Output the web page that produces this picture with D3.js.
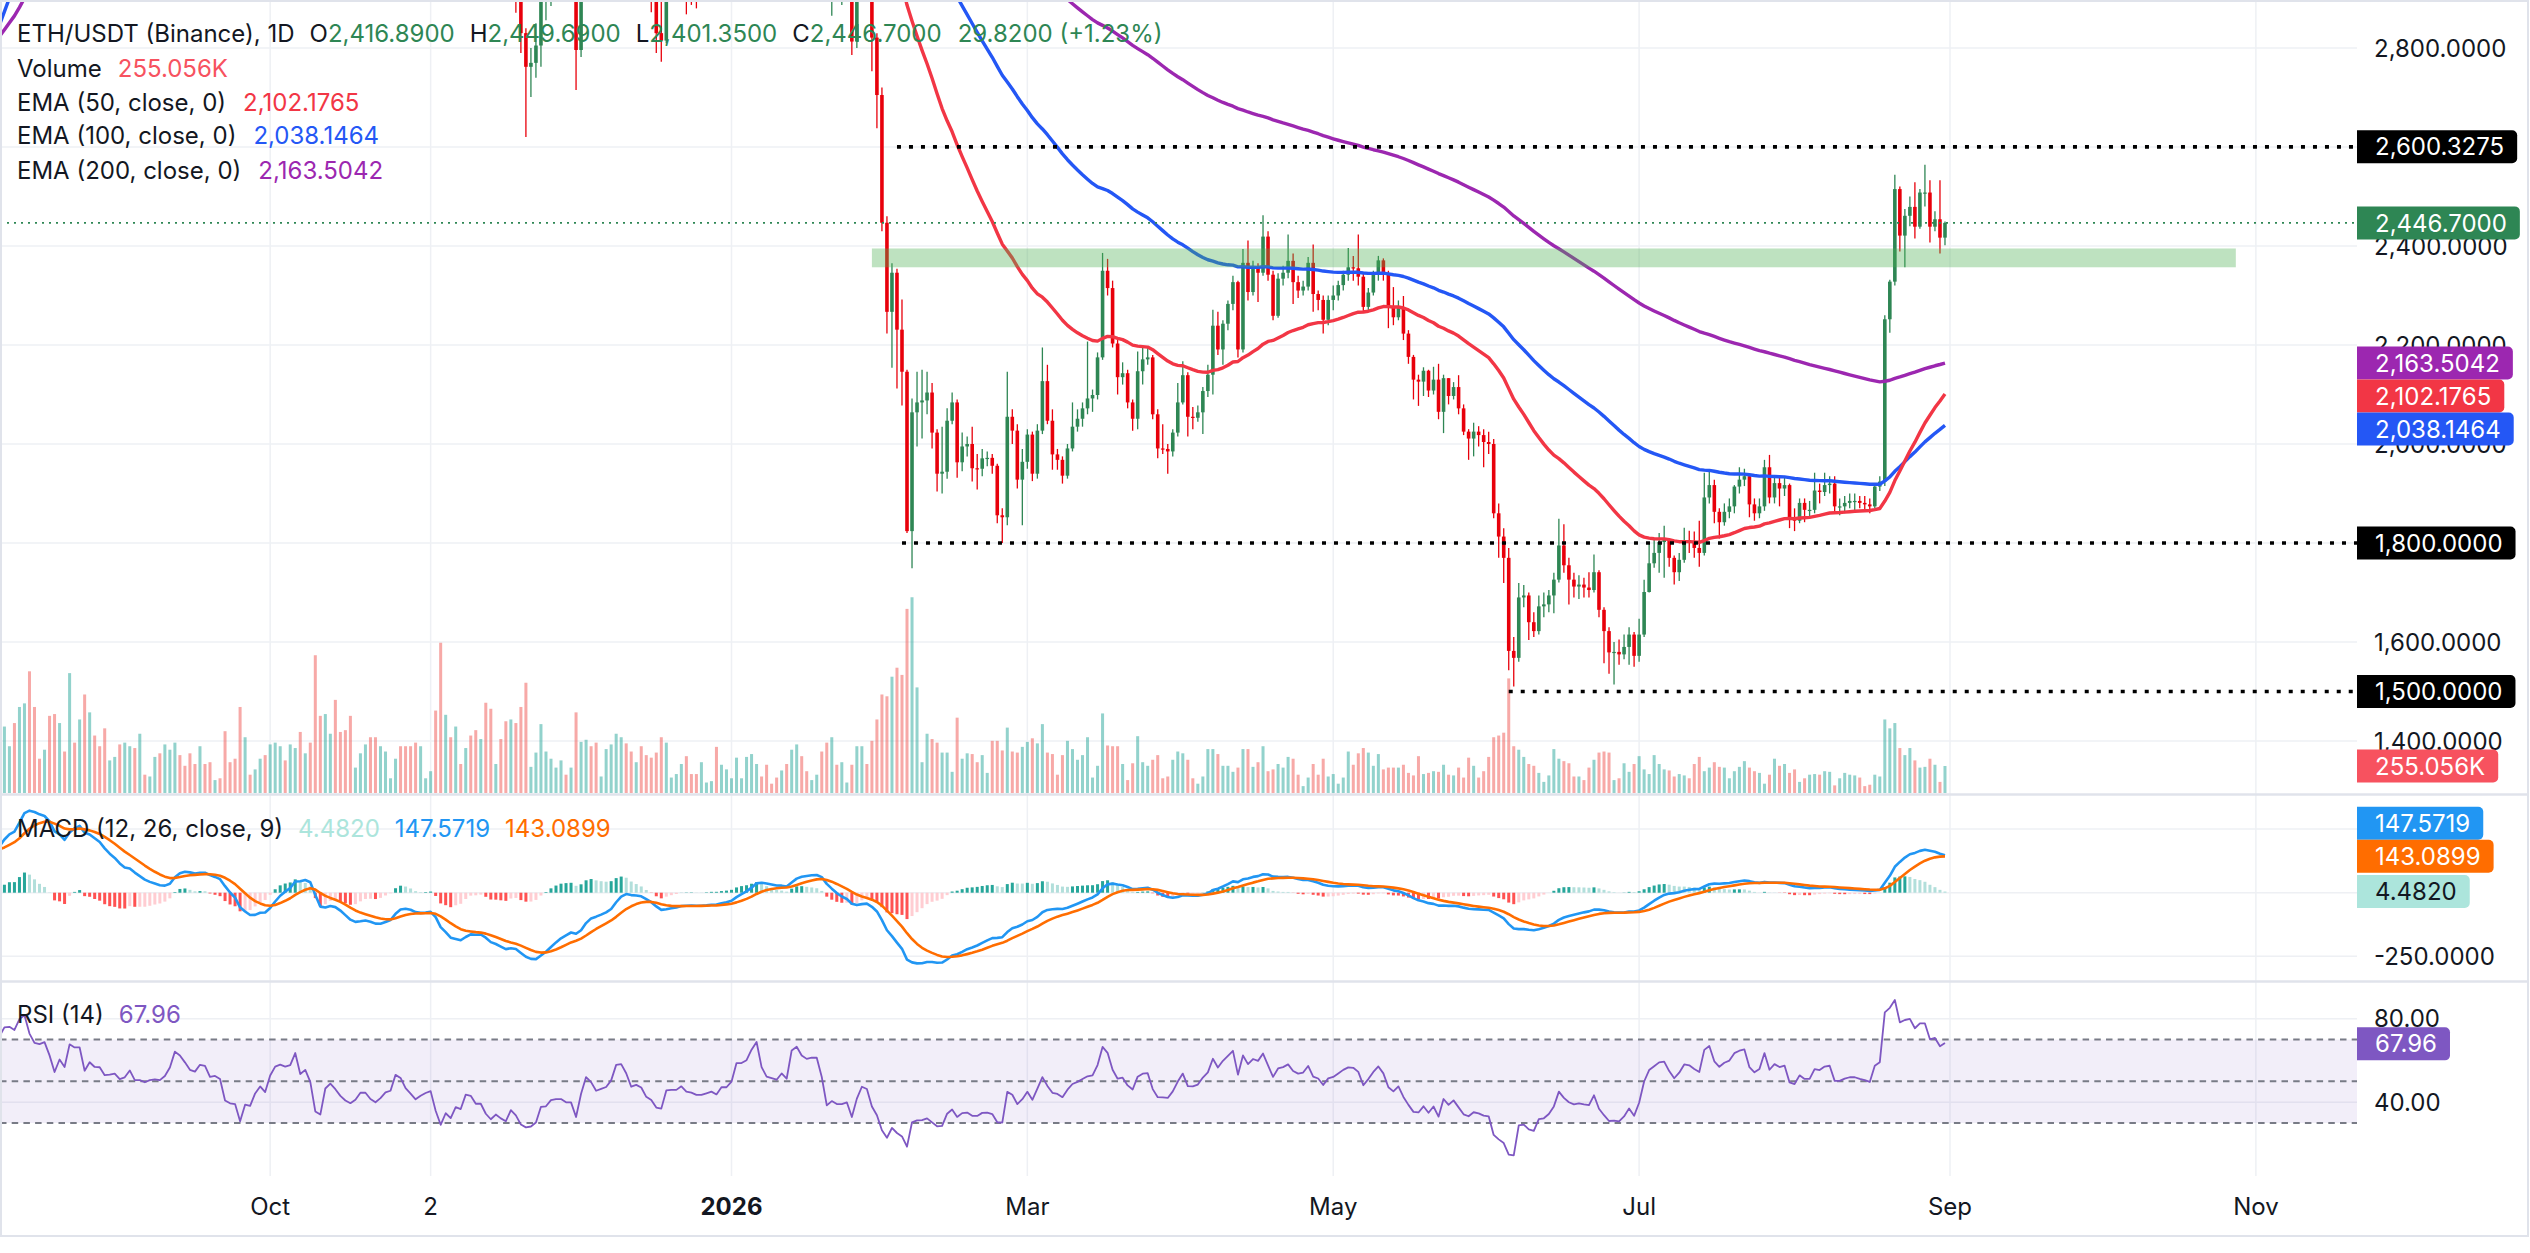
<!DOCTYPE html>
<html>
<head>
<meta charset="utf-8">
<script src="https://cdn.jsdelivr.net/npm/d3@7"></script>
<style>
html, body { margin: 0; padding: 0; background: #fff; }
svg { display: block; font-family: Inter, "Noto Sans", sans-serif; }
</style>
</head>
<body>
<div id="chart"></div>
<script>
// ---- data (daily ETH/USDT, Binance), first bar 2025-08-08 ----
const firstDay = Date.UTC(2025, 7, 8)
const firstOpen = 3910

const closes = [
  3970,4240,4255,4225,4595,4760,4555,4440,4425,4475,4315,4080,4340,4225,4830,4780,4780,4380,4600,4510,4505,4360,4370,4390,
  4300,4330,4450,4300,4300,4270,4300,4310,4300,4350,4460,4710,4670,4600,4520,4500,4590,4580,4470,4480,4450,4200,4160,4150,3870,4030,4010,4140,4220,4145,
  4350,4480,4510,4490,4510,4690,4460,4520,4370,3830,3750,4150,4240,4130,3990,3890,3830,3880,3980,3980,3870,3810,3860,3930,3950,4160,4120,3980,3900,3810,3850,
  3880,3900,3600,3290,3420,3310,3440,3400,3580,3560,3420,3420,3230,3110,3160,3080,3020,3130,3030,2830,2762,2770,2805,2955,2960,3020,3030,3030,2990,2990,
  2796,3000,3190,3130,3020,3040,3060,3130,3320,3330,3240,3090,3110,3080,2970,2930,2830,2815,2975,2980,2980,3010,2960,2950,2930,2930,2940,2950,2930,2970,2970,
  3000,3120,3120,3140,3220,3290,3160,3100,3090,3080,3120,3090,3320,3360,3310,3290,3300,3300,3190,2950,2980,2950,2950,2960,2813,2930,3020,3000,2821,2705,2447,
  2267,2346,2231,2146,1824,2064,2084,2088,2104,2023,1940,1944,2047,2084,1963,1995,2000,1951,1950,1971,1972,1956,1856,1852,2055,2027,1928,1964,
  2019,1940,2027,2127,2047,1979,1968,1936,1991,2035,2051,2072,2092,2099,2175,2350,2315,2203,2135,2143,2084,2051,2147,2171,2175,2060,1991,1990,1985,2023,2084,
  2139,2055,2053,2064,2107,2140,2239,2191,2243,2283,2327,2191,2366,2307,2358,2346,2419,2342,2259,2334,2346,2370,2327,2310,2318,2366,2303,2291,2251,2291,
  2300,2321,2342,2357,2355,2338,2277,2306,2342,2371,2342,2277,2256,2277,2223,2176,2130,2126,2148,2108,2130,2065,2133,2097,2115,2072,2025,2011,2025,2018,2004,
  2000,1860,1813,1770,1582,1568,1690,1694,1640,1622,1672,1676,1694,1726,1795,1755,1726,1712,1716,1710,1705,1741,1665,1622,1579,1580,1575,1590,1615,1572,
  1615,1701,1759,1780,1802,1806,1770,1741,1766,1806,1803,1790,1780,1892,1917,1863,1842,1863,1874,1914,1928,1935,1878,1860,1874,1953,1892,1921,1910,1917,1852,
  1845,1881,1867,1867,1906,1903,1917,1920,1874,1874,1881,1885,1885,1881,1878,1874,1914,1924,2252,2328,2515,2421,2461,2479,2439,2508,2508,2439,2454,2416.89,2446.70
]

const highs = [
  4000,4320,4330,4320,4630,4790,4785,4645,4480,4520,4480,4320,4355,4350,4885,4860,4955,4790,4640,4660,4610,4520,4420,4500,
  4450,4370,4490,4500,4490,4320,4320,4420,4480,4380,4480,4770,4770,4690,4660,4550,4600,4640,4600,4500,4480,4450,4230,4210,4160,4040,4090,4150,4240,4230,
  4370,4520,4600,4560,4560,4760,4700,4550,4540,4390,3850,4170,4290,4140,4220,4110,3950,3900,4020,4060,4090,3900,3880,3960,4020,4170,4240,4190,4030,3950,3890,
  3920,3910,3890,3600,3460,3440,3480,3450,3590,3650,3600,3490,3450,3290,3200,3240,3120,3140,3130,3060,2840,2800,2850,2970,2990,3060,3050,3060,3040,3050,
  3000,3010,3210,3230,3150,3070,3100,3150,3400,3450,3350,3250,3120,3130,3180,3020,2990,2900,2990,3000,3000,3050,3020,2990,2960,2960,2960,2980,3010,2990,3010,
  3010,3140,3150,3160,3250,3310,3300,3170,3140,3110,3140,3160,3340,3400,3370,3320,3330,3360,3300,3200,3000,3000,2990,2980,2960,2950,3040,3050,3010,2830,2720,
  2460,2365,2354,2292,2150,2092,2146,2150,2146,2123,2030,2035,2072,2104,2090,2023,2015,2035,1980,1990,1985,1980,1960,1870,2146,2070,2040,1990,
  2030,2025,2040,2195,2160,2070,1990,1975,2000,2084,2070,2084,2207,2110,2185,2386,2374,2330,2210,2165,2150,2090,2187,2195,2195,2180,2070,2040,2000,2030,2123,
  2167,2145,2075,2078,2115,2160,2271,2267,2250,2290,2340,2330,2394,2411,2370,2365,2462,2430,2350,2345,2360,2423,2385,2340,2330,2378,2403,2310,2300,2300,
  2320,2330,2350,2396,2380,2423,2345,2315,2350,2380,2375,2350,2317,2290,2299,2230,2180,2140,2155,2150,2156,2162,2140,2133,2125,2139,2080,2030,2043,2036,2030,
  2025,2010,1880,1830,1790,1610,1719,1715,1700,1660,1694,1700,1705,1740,1849,1838,1770,1740,1735,1730,1741,1777,1745,1670,1630,1600,1605,1615,1630,1620,
  1647,1726,1802,1809,1820,1835,1810,1775,1780,1831,1825,1823,1845,1942,1946,1928,1870,1880,1890,1917,1953,1950,1940,1890,1890,1968,1978,1935,1935,1935,1920,
  1870,1890,1890,1885,1942,1920,1942,1935,1935,1890,1895,1900,1900,1895,1895,1890,1920,1935,2260,2332,2544,2520,2475,2500,2529,2515,2564,2533,2470,2533,2449.69
]

const lows = [
  3850,3940,4200,4130,4190,4600,4460,4350,4360,4400,4230,4060,4060,4200,4215,4720,4720,4310,4360,4500,4420,4330,4330,4370,
  4210,4240,4330,4270,4210,4250,4280,4280,4260,4300,4330,4460,4630,4560,4500,4470,4460,4480,4470,4450,4440,4090,4150,4100,3820,3840,4000,4000,4140,4140,
  4145,4340,4460,4470,4450,4520,4440,4450,4300,3430,3670,3710,4110,3920,3950,3870,3700,3800,3870,3920,3860,3700,3790,3830,3930,3950,4100,3960,3850,3700,3780,
  3810,3830,3590,3060,3240,3270,3270,3370,3390,3520,3400,3370,3200,3000,3120,3060,2950,3000,2871,2790,2620,2701,2740,2762,2856,2885,2990,2990,2960,2960,
  2715,2782,2990,3100,3000,2990,2990,3040,3100,3250,3180,3070,3070,3060,2920,2872,2790,2772,2810,2950,2950,2960,2868,2887,2880,2910,2920,2920,2910,2920,2940,
  2960,2990,3080,3100,3130,3200,3140,3080,3060,3060,3070,3060,3080,3300,3280,3250,3280,3280,3170,2930,2865,2910,2887,2930,2786,2800,2920,2960,2753,2638,2430,
  2223,2154,2112,2078,1820,1749,1995,2011,2060,1991,1904,1900,1930,2040,1932,1945,1975,1924,1908,1935,1955,1940,1840,1800,1836,2000,1910,1836,
  1950,1925,1930,2020,2040,1948,1948,1920,1930,1985,2025,2035,2060,2065,2090,2170,2300,2195,2100,2120,2072,2027,2030,2120,2160,2050,1971,1980,1940,1975,2015,
  2080,2015,2030,2045,2020,2095,2100,2180,2160,2230,2270,2175,2185,2290,2300,2287,2340,2330,2250,2255,2320,2335,2283,2295,2300,2310,2267,2270,2223,2240,
  2270,2290,2310,2330,2330,2320,2266,2270,2300,2330,2330,2234,2240,2250,2210,2162,2090,2077,2097,2095,2100,2050,2022,2080,2090,2060,2018,1968,1975,1995,1953,
  1980,1850,1770,1719,1543,1510,1560,1670,1604,1610,1615,1650,1660,1658,1720,1740,1676,1690,1687,1690,1690,1700,1650,1557,1536,1514,1554,1565,1554,1550,
  1560,1610,1700,1750,1740,1730,1752,1716,1723,1760,1780,1770,1752,1775,1880,1840,1809,1835,1850,1860,1900,1915,1852,1845,1850,1865,1880,1880,1874,1895,1830,
  1824,1840,1842,1850,1860,1880,1895,1900,1860,1856,1860,1870,1863,1870,1865,1860,1870,1905,1915,2225,2320,2389,2357,2440,2415,2435,2480,2407,2430,2385,2401.35
]

// volume in thousands of ETH
const volumes = [
  476,
  628,442,661,813,847,1150,813,324,409,729,
  746,661,392,1133,476,695,931,762,543,442,
  611,308,341,459,476,442,425,560,173,156,
  341,375,459,409,476,358,257,375,274,442,
  274,291,122,139,584,291,324,813,527,173,
  223,324,358,459,476,442,308,459,425,577,
  375,476,1302,729,746,560,880,577,594,729,
  240,375,459,527,527,442,392,139,324,442,
  442,442,476,442,139,206,779,1420,739,527,
  628,274,425,543,594,510,853,796,274,510,
  678,695,661,813,1042,247,382,651,392,324,
  240,308,173,240,762,483,503,442,476,156,
  415,459,560,527,469,392,291,442,358,334,
  382,527,476,146,179,274,348,179,179,291,
  99,112,436,267,223,139,334,139,341,368,
  274,156,267,88,146,213,274,409,459,348,
  206,122,173,392,476,527,267,291,99,267,
  442,442,274,493,695,931,914,1099,1184,1116,
  1740,1850,998,291,560,510,476,382,382,200,
  712,324,375,368,291,358,190,493,493,
  402,618,392,382,436,483,517,469,651,382,
  368,173,358,493,415,314,358,527,146,257,
  752,449,442,442,274,122,281,537,291,257,
  314,358,139,156,314,392,375,314,139,88,
  156,415,415,368,257,257,200,240,415,415,
  247,291,442,206,223,274,240,341,324,173,
  65,146,274,173,324,156,179,88,146,392,
  267,375,425,382,257,368,223,240,240,240,
  267,190,166,348,179,190,206,200,267,173,
  166,240,146,334,257,146,206,341,527,543,
  570,1083,442,409,341,274,257,190,105,166,
  415,324,301,281,156,156,122,240,314,382,
  392,382,122,139,281,200,274,348,223,179,
  358,274,223,213,156,179,166,139,274,341,
  206,240,
  291,247,240,139,206,247,301,240,206,190,
  88,173,324,257,274,190,223,105,139,173,
  179,173,206,200,72,139,190,173,166,146,
  65,78,173,156,695,611,661,425,358,425,
  308,240,247,324,267,105,255.056
]

// indicator starting values read at the left edge
const emaSeeds = { e50: 3370, e100: 2846, e200: 2823, e12: 3730, e26: 3548, signal: 170 }
const rsiSeeds = { gain: 80, loss: 32 }

// values shown in legends / scale labels
const lastBar = { o: 2416.89, h: 2449.69, l: 2401.35, c: 2446.70, chg: 29.82, pct: 1.23 }
const lastVolume = 255.056
const emaLast = { e50: 2102.1765, e100: 2038.1464, e200: 2163.5042 }
const macdLast = { hist: 4.4820, macd: 147.5719, signal: 143.0899 }
const rsiLast = 67.96

// horizontal levels and support zone drawn on the chart
const levels = [
  { value: 2600.3275, from: Date.UTC(2026, 1, 3) },
  { value: 1800, from: Date.UTC(2026, 1, 4) },
  { value: 1500, from: Date.UTC(2026, 5, 5) }
]
const zone = { low: 2357, high: 2395, from: Date.UTC(2026, 0, 29), to: Date.UTC(2026, 9, 28) }

const priceTicks = [1400, 1600, 1800, 2000, 2200, 2400, 2600, 2800]
const macdTicks = [-250, 0, 250]
const rsiTicks = [80, 40]
const timeTicks = [Date.UTC(2025, 9, 1), Date.UTC(2025, 10, 2), Date.UTC(2026, 0, 1), Date.UTC(2026, 2, 1),
  Date.UTC(2026, 4, 1), Date.UTC(2026, 6, 1), Date.UTC(2026, 8, 1), Date.UTC(2026, 10, 1)]
const timeLabels = ['Oct', '2', '2026', 'Mar', 'May', 'Jul', 'Sep', 'Nov']

// ---- colours ----
const dark = '#131722'
const upColor = '#2e8654'
const downColor = '#e8000b'
const histLight = '#ace5dc'
const gridColor = '#eef0f4'
const sepColor = '#e0e3eb'

// ---- layout ----
const W = 2530, H = 1253
const plotRight = 2357
const tagH = 33
const fmt4 = d3.format(',.4f')

const svg = d3.select('#chart').append('svg').attr('width', W).attr('height', H)
svg.append('rect').attr('width', W).attr('height', H).attr('fill', '#fff')

const x = d3.scaleUtc()
  .domain([new Date(Date.UTC(2026, 0, 1)), new Date(Date.UTC(2026, 8, 1))])
  .range([731.5, 1950])
const yPrice = d3.scaleLinear().domain([1400, 2800]).range([741, 48])
const yVol = d3.scaleLinear().domain([0, 1824]).range([793, 600])
const yMacd = d3.scaleLinear().domain([-250, 250]).range([956.3, 829.1])
const yRsi = d3.scaleLinear().domain([30, 70]).range([1123, 1039.6])

// ---- derived series ----
const dates = closes.map((c, i) => d3.utcDay.offset(new Date(firstDay), i))
const opens = closes.map((c, i) => i === 0 ? firstOpen : closes[i - 1])
const bars = closes.map((c, i) => ({ date: dates[i], o: opens[i], h: highs[i], l: lows[i], c: c, v: volumes[i] }))

const ema = (vals, n, first) => {
  const k = 2 / (n + 1)
  const out = [first]
  for (let i = 1; i < vals.length; i++) out.push(out[i - 1] + k * (vals[i] - out[i - 1]))
  return out
}
const ema50 = ema(closes, 50, emaSeeds.e50)
const ema100 = ema(closes, 100, emaSeeds.e100)
const ema200 = ema(closes, 200, emaSeeds.e200)
const ema12 = ema(closes, 12, emaSeeds.e12)
const ema26 = ema(closes, 26, emaSeeds.e26)
const macd = ema12.map((v, i) => v - ema26[i])
const signal = ema(macd, 9, emaSeeds.signal)
const hist = macd.map((v, i) => v - signal[i])

const rsi = []
let avgGain = rsiSeeds.gain, avgLoss = rsiSeeds.loss
closes.forEach((c, i) => {
  if (i > 0) {
    const ch = c - closes[i - 1]
    avgGain = (avgGain * 13 + Math.max(ch, 0)) / 14
    avgLoss = (avgLoss * 13 + Math.max(-ch, 0)) / 14
  }
  rsi.push(100 - 100 / (1 + avgGain / avgLoss))
})

// ---- clip paths per pane ----
const defs = svg.append('defs')
const clip = (id, y0, h) => defs.append('clipPath').attr('id', id)
  .append('rect').attr('x', 0).attr('y', y0).attr('width', plotRight).attr('height', h)
clip('clipPrice', 0, 793)
clip('clipMacd', 796, 184)
clip('clipRsi', 983, 193)

// ---- grid ----
const grid = svg.append('g').attr('stroke', gridColor).attr('stroke-width', 1.5)
timeTicks.forEach(t => grid.append('line')
  .attr('x1', x(t)).attr('x2', x(t)).attr('y1', 0).attr('y2', 1176))
const hGrid = (ticks, scale) => ticks.forEach(v => grid.append('line')
  .attr('x1', 0).attr('x2', plotRight).attr('y1', scale(v)).attr('y2', scale(v)))
hGrid(priceTicks, yPrice)
hGrid(macdTicks, yMacd)
hGrid(rsiTicks, yRsi)

// ---- price pane ----
const price = svg.append('g').attr('clip-path', 'url(#clipPrice)')

// volume overlay
price.append('g').selectAll('rect').data(bars).enter().append('rect')
  .attr('x', d => x(d.date) - 1.5)
  .attr('width', 3)
  .attr('y', d => yVol(d.v))
  .attr('height', d => yVol(0) - yVol(d.v))
  .attr('fill', d => d.c >= d.o ? '#26a69a' : '#ef5350')
  .attr('fill-opacity', 0.5)

// candles
const candle = price.append('g').selectAll('g').data(bars).enter().append('g')
  .attr('fill', d => d.c >= d.o ? upColor : downColor)
  .attr('stroke', d => d.c >= d.o ? upColor : downColor)
candle.append('line')
  .attr('x1', d => x(d.date)).attr('x2', d => x(d.date))
  .attr('y1', d => yPrice(Math.max(d.h, d.o, d.c)))
  .attr('y2', d => yPrice(Math.min(d.l, d.o, d.c)))
  .attr('stroke-width', 1.3)
candle.append('rect')
  .attr('stroke', 'none')
  .attr('x', d => x(d.date) - 1.8)
  .attr('width', 3.6)
  .attr('y', d => yPrice(Math.max(d.o, d.c)))
  .attr('height', d => Math.max(1.2, Math.abs(yPrice(d.o) - yPrice(d.c))))

// moving averages
const emaLine = (vals, color) => price.append('path')
  .datum(vals)
  .attr('fill', 'none').attr('stroke', color).attr('stroke-width', 3.4)
  .attr('stroke-linejoin', 'round')
  .attr('d', d3.line().x((v, i) => x(dates[i])).y(v => yPrice(v)))
emaLine(ema200, '#9c27b0')
emaLine(ema100, '#2457f5')
emaLine(ema50, '#f23645')

// support zone and levels
svg.append('rect')
  .attr('x', x(zone.from)).attr('width', x(zone.to) - x(zone.from))
  .attr('y', yPrice(zone.high)).attr('height', yPrice(zone.low) - yPrice(zone.high))
  .attr('fill', 'rgba(76,175,80,0.36)')
levels.forEach(l => svg.append('line')
  .attr('x1', x(l.from)).attr('x2', plotRight)
  .attr('y1', yPrice(l.value)).attr('y2', yPrice(l.value))
  .attr('stroke', '#000').attr('stroke-width', 3.6).attr('stroke-dasharray', '4 8'))

// last price line
svg.append('line')
  .attr('x1', 0).attr('x2', plotRight)
  .attr('y1', yPrice(lastBar.c)).attr('y2', yPrice(lastBar.c))
  .attr('stroke', upColor).attr('stroke-width', 1.6).attr('stroke-dasharray', '2 5')

// ---- MACD pane ----
const macdG = svg.append('g').attr('clip-path', 'url(#clipMacd)')
macdG.append('g').selectAll('rect').data(hist).enter().append('rect')
  .attr('x', (h, i) => x(dates[i]) - 1.5)
  .attr('width', 3)
  .attr('y', h => Math.min(yMacd(h), yMacd(0)))
  .attr('height', h => Math.abs(yMacd(h) - yMacd(0)))
  .attr('fill', (h, i) => {
    const prev = i > 0 ? hist[i - 1] : h
    if (h >= 0) return h > prev ? '#26a69a' : '#b2dfdb'
    return h > prev ? '#ffcdd2' : '#ff5252'
  })
const paneLine = (g, vals, yScale, color, w) => g.append('path')
  .datum(vals)
  .attr('fill', 'none').attr('stroke', color).attr('stroke-width', w)
  .attr('stroke-linejoin', 'round')
  .attr('d', d3.line().x((v, i) => x(dates[i])).y(v => yScale(v)))
paneLine(macdG, macd, yMacd, '#2196f3', 2.6)
paneLine(macdG, signal, yMacd, '#ff6d00', 2.6)

// ---- RSI pane ----
const rsiG = svg.append('g').attr('clip-path', 'url(#clipRsi)')
rsiG.append('rect')
  .attr('x', 0).attr('width', plotRight)
  .attr('y', yRsi(70)).attr('height', yRsi(30) - yRsi(70))
  .attr('fill', 'rgba(126,87,194,0.1)')
;[70, 50, 30].forEach(v => rsiG.append('line')
  .attr('x1', 0).attr('x2', plotRight).attr('y1', yRsi(v)).attr('y2', yRsi(v))
  .attr('stroke', '#787b86').attr('stroke-width', 2).attr('stroke-dasharray', '6.5 5.2'))
paneLine(rsiG, rsi, yRsi, '#7e57c2', 1.8)

// ---- pane separators and frame ----
const frame = svg.append('g').attr('stroke', sepColor).attr('fill', 'none')
frame.append('line').attr('x1', 0).attr('x2', 2528).attr('y1', 794.5).attr('y2', 794.5).attr('stroke-width', 2.5)
frame.append('line').attr('x1', 0).attr('x2', 2528).attr('y1', 981.5).attr('y2', 981.5).attr('stroke-width', 2.5)
frame.append('rect').attr('x', 1).attr('y', 1).attr('width', 2527).attr('height', 1235).attr('stroke-width', 2)

// ---- value tags on the right scale ----
// keep boxes from overlapping
const stack = (items, fromBottom) => {
  const s = items.slice().sort((a, b) => a.y - b.y)
  if (fromBottom) for (let i = s.length - 2; i >= 0; i--) s[i].y = Math.min(s[i].y, s[i + 1].y - tagH)
  else for (let i = 1; i < s.length; i++) s[i].y = Math.max(s[i].y, s[i - 1].y + tagH)
  return s
}
const priceTags = stack([
  { y: yPrice(levels[0].value), text: fmt4(levels[0].value), bg: '#000', fg: '#fff' },
  { y: yPrice(lastBar.c), text: fmt4(lastBar.c), bg: upColor, fg: '#fff' },
  { y: yPrice(emaLast.e200), text: fmt4(emaLast.e200), bg: '#9c27b0', fg: '#fff' },
  { y: yPrice(emaLast.e50), text: fmt4(emaLast.e50), bg: '#f23645', fg: '#fff' },
  { y: yPrice(emaLast.e100), text: fmt4(emaLast.e100), bg: '#2457f5', fg: '#fff' },
  { y: yPrice(levels[1].value), text: fmt4(levels[1].value), bg: '#000', fg: '#fff' },
  { y: yPrice(levels[2].value), text: fmt4(levels[2].value), bg: '#000', fg: '#fff' }
], false)
const volTags = [{ y: yVol(lastVolume), text: d3.format('.3f')(lastVolume) + 'K', bg: '#f7525f', fg: '#fff' }]
const macdTags = stack([
  { y: yMacd(macdLast.macd), text: d3.format('.4f')(macdLast.macd), bg: '#2196f3', fg: '#fff' },
  { y: yMacd(macdLast.signal), text: d3.format('.4f')(macdLast.signal), bg: '#ff6d00', fg: '#fff' },
  { y: yMacd(macdLast.hist), text: d3.format('.4f')(macdLast.hist), bg: histLight, fg: dark }
], true)
const rsiTags = [{ y: yRsi(rsiLast), text: d3.format('.2f')(rsiLast), bg: '#7e57c2', fg: '#fff' }]
const allTags = priceTags.concat(volTags, macdTags, rsiTags)

// scale tick labels (skip the ones a tag covers completely)
const axisText = (y, s) => {
  if (allTags.some(t => Math.abs(t.y - y) < 6)) return
  svg.append('text')
    .attr('x', 2374).attr('y', y).attr('dy', '0.36em')
    .attr('font-size', 24).attr('fill', dark).text(s)
}
priceTicks.forEach(p => axisText(yPrice(p), fmt4(p)))
macdTicks.filter(v => v !== 0).forEach(v => axisText(yMacd(v), fmt4(v).replace('−', '-')))
rsiTicks.forEach(v => axisText(yRsi(v), d3.format('.2f')(v)))

const tag = d => {
  const g = svg.append('g')
  const box = g.append('path').attr('fill', d.bg)
  const t = g.append('text').attr('x', 2375).attr('y', d.y).attr('dy', '0.36em')
    .attr('font-size', 24).attr('fill', d.fg).text(d.text)
  const w = t.node().getComputedTextLength() + 31
  const r = 5, x0 = 2357, y0 = d.y - tagH / 2
  box.attr('d', `M${x0},${y0}h${w - r}a${r},${r} 0 0 1 ${r},${r}v${tagH - 2 * r}a${r},${r} 0 0 1 ${-r},${r}h${-(w - r)}z`)
}
allTags.forEach(tag)

// ---- time axis ----
timeTicks.forEach((t, i) => svg.append('text')
  .attr('x', x(t)).attr('y', 1206).attr('dy', '0.36em')
  .attr('text-anchor', 'middle').attr('font-size', 24).attr('fill', dark)
  .attr('font-weight', timeLabels[i] === '2026' ? 700 : 400)
  .text(timeLabels[i]))

// ---- legends ----
const legend = (y, parts) => {
  const t = svg.append('text').attr('x', 17).attr('y', y).attr('dy', '0.36em').attr('font-size', 24)
  parts.forEach(([s, color, gap]) => t.append('tspan').attr('dx', gap).attr('fill', color).text(s))
}
legend(33, [
  ['ETH/USDT (Binance), 1D', dark, 0],
  ['O', dark, 15], [fmt4(lastBar.o), upColor, 0],
  ['H', dark, 15], [fmt4(lastBar.h), upColor, 0],
  ['L', dark, 15], [fmt4(lastBar.l), upColor, 0],
  ['C', dark, 15], [fmt4(lastBar.c), upColor, 0],
  [fmt4(lastBar.chg) + ' (+' + lastBar.pct.toFixed(2) + '%)', upColor, 16]
])
legend(68, [['Volume', dark, 0], [d3.format('.3f')(lastVolume) + 'K', '#f7525f', 16]])
legend(102, [['EMA (50, close, 0)', dark, 0], [fmt4(emaLast.e50), '#f23645', 17]])
legend(135, [['EMA (100, close, 0)', dark, 0], [fmt4(emaLast.e100), '#2457f5', 17]])
legend(170, [['EMA (200, close, 0)', dark, 0], [fmt4(emaLast.e200), '#9c27b0', 17]])
legend(828, [
  ['MACD (12, 26, close, 9)', dark, 0],
  [d3.format('.4f')(macdLast.hist), histLight, 15],
  [d3.format('.4f')(macdLast.macd), '#2196f3', 15],
  [d3.format('.4f')(macdLast.signal), '#ff6d00', 15]
])
legend(1014, [['RSI (14)', dark, 0], [d3.format('.2f')(rsiLast), '#7e57c2', 15]])
</script>
</body>
</html>
